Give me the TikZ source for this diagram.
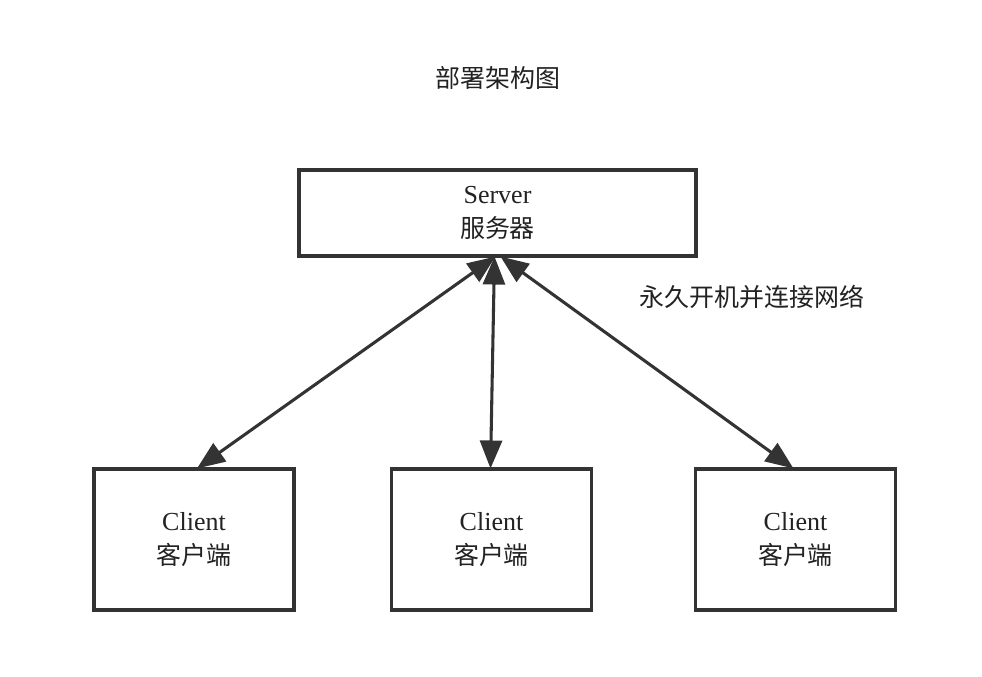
\documentclass[tikz,border=0pt]{standalone}
\usepackage{fontspec}
\setmainfont{Liberation Serif}
\newfontfamily\cjk{Noto Sans CJK SC}[Scale=0.96]
\usetikzlibrary{arrows.meta,calc}
\definecolor{ink}{HTML}{333333}
\definecolor{txt}{HTML}{222222}
\tikzset{
  box/.style={draw=ink, line width=2.3pt, fill=white, text=txt, align=center, inner sep=0pt, font=\fontsize{19.5}{26}\selectfont},
  lbl/.style={text=txt, inner sep=0pt, font=\fontsize{19.5}{26}\selectfont\cjk},
  link/.style={draw=ink, line width=2.3pt, {Triangle[length=21pt,width=16.5pt]}-{Triangle[length=21pt,width=16.5pt]}}
}
\begin{document}
\begin{tikzpicture}[x=0.75pt,y=-0.75pt]
\useasboundingbox[fill=white] (0,0) rectangle (982,676);
\node[lbl] (title) at (498,78) {部署架构图};
\node[box, minimum width=397*0.75pt, minimum height=86*0.75pt] (srv) at (497.5,213) {Server\\[0pt]{\cjk 服务器}};
\node[box, minimum width=200*0.75pt, minimum height=141*0.75pt] (c1) at (194,539.5) {Client\\[0pt]{\cjk 客户端}};
\node[box, minimum width=200*0.75pt, minimum height=141*0.75pt] (c2) at (491.5,539.5) {Client\\[0pt]{\cjk 客户端}};
\node[box, minimum width=200*0.75pt, minimum height=141*0.75pt] (c3) at (795.5,539.5) {Client\\[0pt]{\cjk 客户端}};
\node[lbl] (note) at (752,297) {永久开机并连接网络};
\draw[link] ($(srv.south)+(-2,-1)$) -- ($(c1.north)+(3,1)$);
\draw[link] ($(srv.south)+(-3,-1)$) -- ($(c2.north)+(-1,1)$);
\draw[link] ($(srv.south)+(3,-1)$) -- ($(c3.north)+(-2,1)$);
\end{tikzpicture}
\end{document}
